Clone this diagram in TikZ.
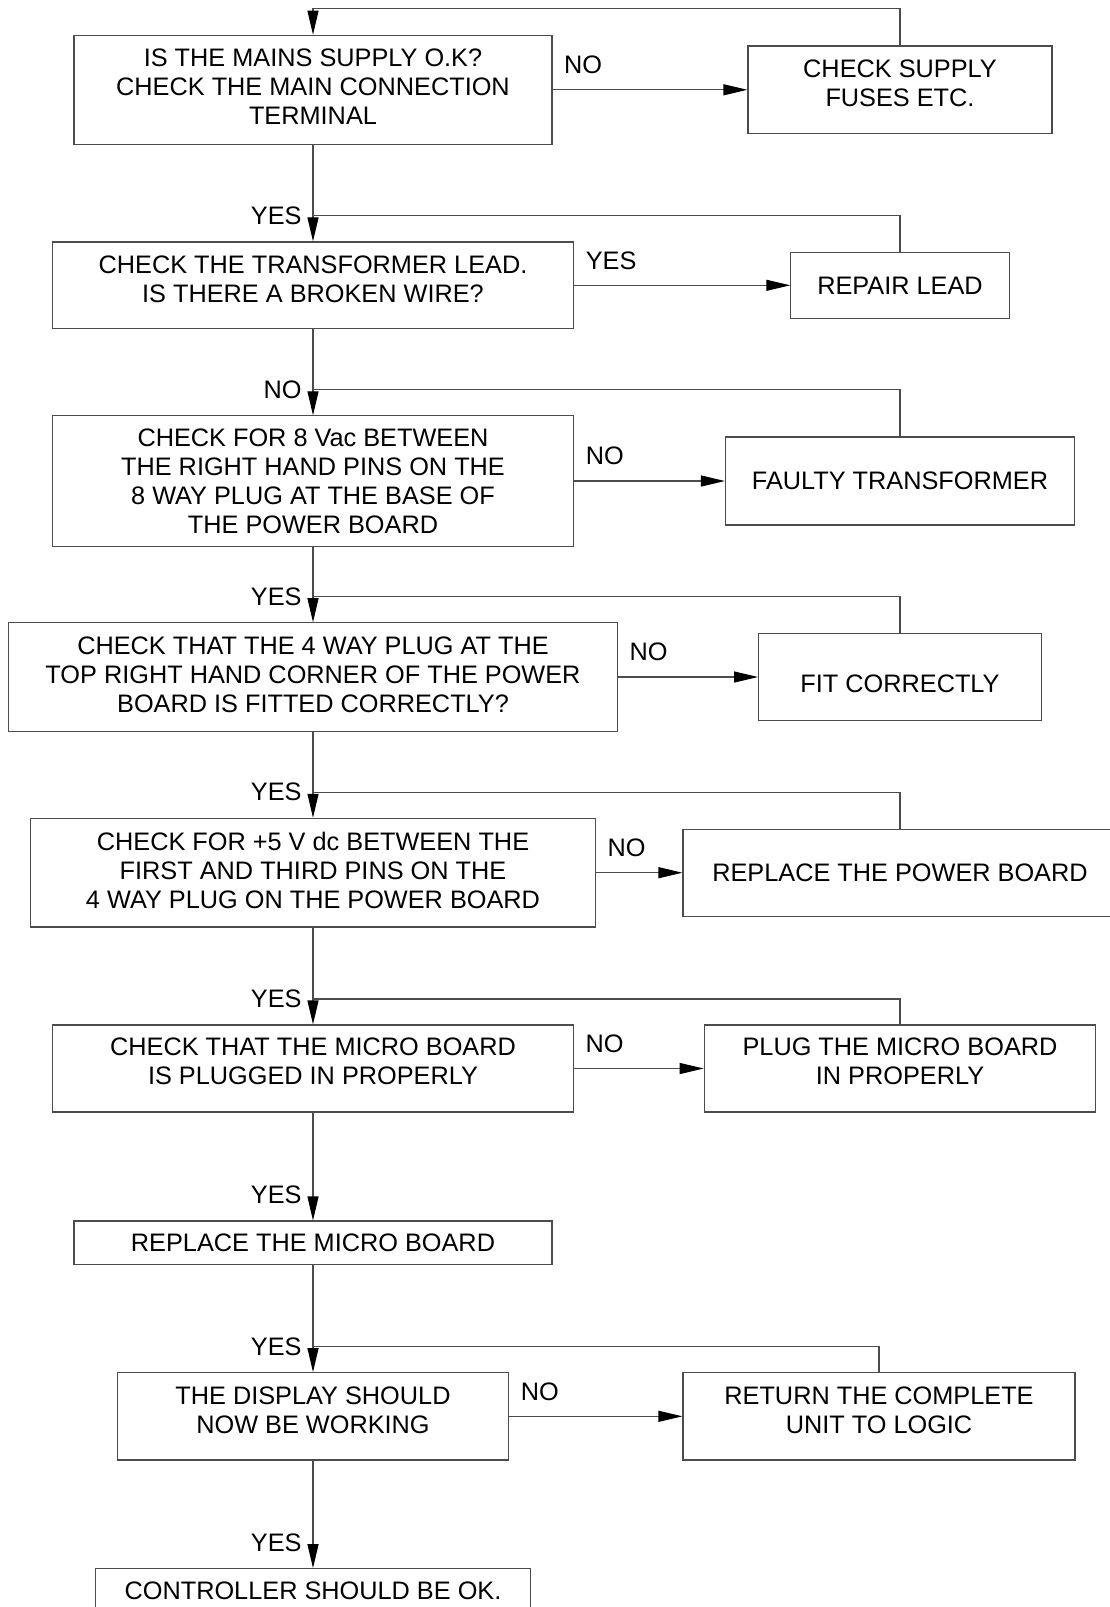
\documentclass[tikz,border=0pt]{standalone}
\usepackage{fontspec}
\setmainfont{Liberation Sans}
\usetikzlibrary{arrows.meta}
\usetikzlibrary{positioning}
\definecolor{mgray}{rgb}{0.3, 0.3, 0.3}
\tikzset{->/.style = {-{Triangle[length=12pt, width=5.5pt, color=black]}}}
\tikzset{conn/.style = {draw=mgray, line width=0.6pt}}
\tikzset{box/.style = {draw=mgray, line width=0.6pt, rectangle, inner sep=0, align=center,
                       font=\fontsize{12.65}{14.45}\selectfont}}
\tikzset{lbl/.style = {inner sep=0, font=\fontsize{12.65}{14.45}\selectfont}}
\tikzset{lift/.style = {text depth=#1}}

\begin{document}
\begin{tikzpicture}[x=0.5pt, y=-0.5pt]
    \useasboundingbox (0, 0) rectangle (1109, 1607);

    % main column
    \node [box, minimum width=239pt, minimum height=54.5pt, lift=3pt] (mains) at (313, 89.8)
        {IS THE MAINS SUPPLY O.K?\\CHECK THE MAIN CONNECTION\\TERMINAL};
    \node [box, minimum width=260.85pt, minimum height=43.35pt, lift=6.5pt] (lead) at (313, 285.3)
        {CHECK THE TRANSFORMER LEAD.\\IS THERE A BROKEN WIRE?};
    \node [box, minimum width=260.85pt, minimum height=65.15pt] (vac) at (313, 481)
        {CHECK FOR 8 Vac BETWEEN\\THE RIGHT HAND PINS ON THE\\8 WAY PLUG AT THE BASE OF\\THE POWER BOARD};
    \node [box, minimum width=304.5pt, minimum height=54.2pt, lift=2.5pt] (fourway) at (313, 677)
        {CHECK THAT THE 4 WAY PLUG AT THE\\TOP RIGHT HAND CORNER OF THE POWER\\BOARD IS FITTED CORRECTLY?};
    \node [box, minimum width=282.5pt, minimum height=54.35pt, lift=2.5pt] (vdc) at (313, 872.7)
        {CHECK FOR +5 V dc BETWEEN THE\\FIRST AND THIRD PINS ON THE\\4 WAY PLUG ON THE POWER BOARD};
    \node [box, minimum width=260.5pt, minimum height=43.5pt, lift=7pt] (micro) at (313, 1068.5)
        {CHECK THAT THE MICRO BOARD\\IS PLUGGED IN PROPERLY};
    \node [box, minimum width=239pt, minimum height=21.65pt] (newmicro) at (313, 1242.7)
        {REPLACE THE MICRO BOARD};
    \node [box, minimum width=195.8pt, minimum height=43.65pt, lift=6pt] (display) at (313, 1416.3)
        {THE DISPLAY SHOULD\\NOW BE WORKING};
    \node [box, minimum width=217.5pt, minimum height=22pt] (ok) at (313, 1590.7)
        {CONTROLLER SHOULD BE OK.};

    % right column
    \node [box, minimum width=152pt, minimum height=43.85pt, lift=6.5pt] (supply) at (900, 89.8)
        {CHECK SUPPLY\\FUSES ETC.};
    \node [box, minimum width=109.15pt, minimum height=33.15pt] (repair) at (900, 285.3)
        {REPAIR LEAD};
    \node [box, minimum width=174.5pt, minimum height=44pt] (faulty) at (900, 481)
        {FAULTY TRANSFORMER};
    \node [box, minimum width=141.35pt, minimum height=43.35pt, text height=16pt] (fit) at (900, 677)
        {FIT CORRECTLY};
    \node [box, minimum width=217pt, minimum height=43.5pt] (newpower) at (900, 872.7)
        {REPLACE THE POWER BOARD};
    \node [box, minimum width=195.75pt, minimum height=43.5pt, lift=7pt] (plugin) at (900, 1068.5)
        {PLUG THE MICRO BOARD\\IN PROPERLY};
    \node [box, minimum width=196pt, minimum height=43.65pt, lift=6pt] (logic) at (879, 1416.3)
        {RETURN THE COMPLETE\\UNIT TO LOGIC};

    % joins above each main box
    \coordinate (j1) at ([yshift=13pt] mains.north);
    \foreach \n in {lead, vac, fourway, vdc, micro, newmicro, display, ok}
        \coordinate (j-\n) at ([yshift=12.75pt] \n.north);

    % down the main column
    \foreach \a/\b in {mains/lead, lead/vac, vac/fourway, fourway/vdc, vdc/micro,
                       micro/newmicro, newmicro/display, display/ok}
        \draw [conn, ->] (\a) -- (\b);

    % across to the right
    \foreach \a/\b in {mains/supply, lead/repair, vac/faulty, fourway/fit, vdc/newpower,
                       micro/plugin, display/logic}
        \draw [conn, ->] (\a) -- (\b);

    % back to the main column
    \draw [conn, ->] (supply.north) |- (j1) -- (mains.north);
    \draw [conn] (repair.north) |- (j-lead);
    \draw [conn] (faulty.north) |- (j-vac);
    \draw [conn] (fit.north) |- (j-fourway);
    \draw [conn] (newpower.north) |- (j-vdc);
    \draw [conn] (plugin.north) |- (j-micro);
    \draw [conn] (logic.north) |- (j-display);

    % labels
    \foreach \n/\t in {lead/YES, vac/NO, fourway/YES, vdc/YES, micro/YES, newmicro/YES,
                       display/YES, ok/YES}
        \node [lbl, anchor=east] (l-\n) at ([xshift=-5.5pt] j-\n) {\t};
    \foreach \n/\t in {mains/NO, lead/YES, vac/NO, fourway/NO, vdc/NO, micro/NO, display/NO}
        \node [lbl, anchor=west] (r-\n) at ([xshift=5.5pt, yshift=12.5pt] \n.east) {\t};
\end{tikzpicture}
\end{document}
